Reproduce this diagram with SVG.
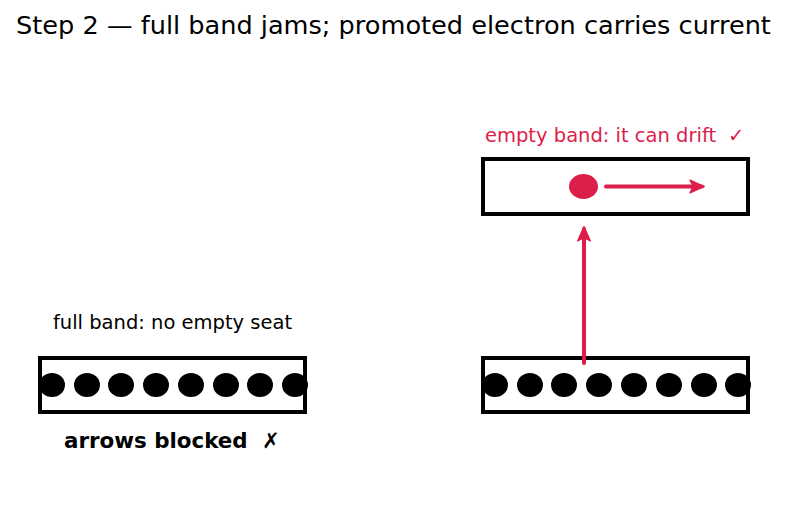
<svg xmlns="http://www.w3.org/2000/svg" width="787" height="512" viewBox="0 0 787 512">
<style>
text{font-family:"DejaVu Sans",sans-serif}
.band{fill:none;stroke:#000;stroke-width:4}
.e{fill:#000}
.red{fill:#dc1e4a}
.conn{stroke:#dc1e4a;stroke-width:4;fill:none;stroke-linecap:round}
</style>
<defs>
<marker id="ah" viewBox="0 0 10 10" refX="8" refY="5" markerWidth="4" markerHeight="4" orient="auto" markerUnits="strokeWidth">
<path d="M0.5,1 L9.5,5 L0.5,9 L2.5,5 Z" fill="#dc1e4a" stroke="#dc1e4a" stroke-width="0.8" stroke-linejoin="round"/>
</marker>
</defs>
<rect width="787" height="512" fill="#fff"/>
<text x="393.5" y="34" font-size="25.6" text-anchor="middle">Step 2 — full band jams; promoted electron carries current</text>
<g id="full-band">
<rect class="band" x="40" y="358" width="265" height="54"/>
<ellipse class="e" cx="52" cy="385" rx="13" ry="12"/>
<ellipse class="e" cx="87" cy="385" rx="13" ry="12"/>
<ellipse class="e" cx="121" cy="385" rx="13" ry="12"/>
<ellipse class="e" cx="156" cy="385" rx="13" ry="12"/>
<ellipse class="e" cx="191" cy="385" rx="13" ry="12"/>
<ellipse class="e" cx="226" cy="385" rx="13" ry="12"/>
<ellipse class="e" cx="260" cy="385" rx="13" ry="12"/>
<ellipse class="e" cx="295" cy="385" rx="13" ry="12"/>
<text x="172.5" y="329" font-size="19.5" text-anchor="middle">full band: no empty seat</text>
<text y="448" font-size="21.4" font-weight="bold"><tspan x="64">arrows blocked</tspan><tspan x="262">✗</tspan></text>
</g>
<g id="lower-band">
<rect class="band" x="483" y="358" width="265" height="54"/>
<ellipse class="e" cx="495" cy="385" rx="13" ry="12"/>
<ellipse class="e" cx="530" cy="385" rx="13" ry="12"/>
<ellipse class="e" cx="564" cy="385" rx="13" ry="12"/>
<ellipse class="e" cx="599" cy="385" rx="13" ry="12"/>
<ellipse class="e" cx="634" cy="385" rx="13" ry="12"/>
<ellipse class="e" cx="669" cy="385" rx="13" ry="12"/>
<ellipse class="e" cx="704" cy="385" rx="13" ry="12"/>
<ellipse class="e" cx="738" cy="385" rx="13" ry="12"/>
</g>
<g id="empty-band">
<rect class="band" x="483" y="159" width="265" height="55"/>
<ellipse class="red" cx="583.5" cy="186.5" rx="14.5" ry="12.5"/>
<text y="142" font-size="19.5" fill="#dc1e4a"><tspan x="485">empty band: it can drift</tspan><tspan x="728">✓</tspan></text>
</g>
<g id="connectors">
<line class="conn" x1="606" y1="186.5" x2="702" y2="186.5" marker-end="url(#ah)"/>
<line class="conn" x1="584" y1="363" x2="584" y2="229" marker-end="url(#ah)"/>
</g>
</svg>
